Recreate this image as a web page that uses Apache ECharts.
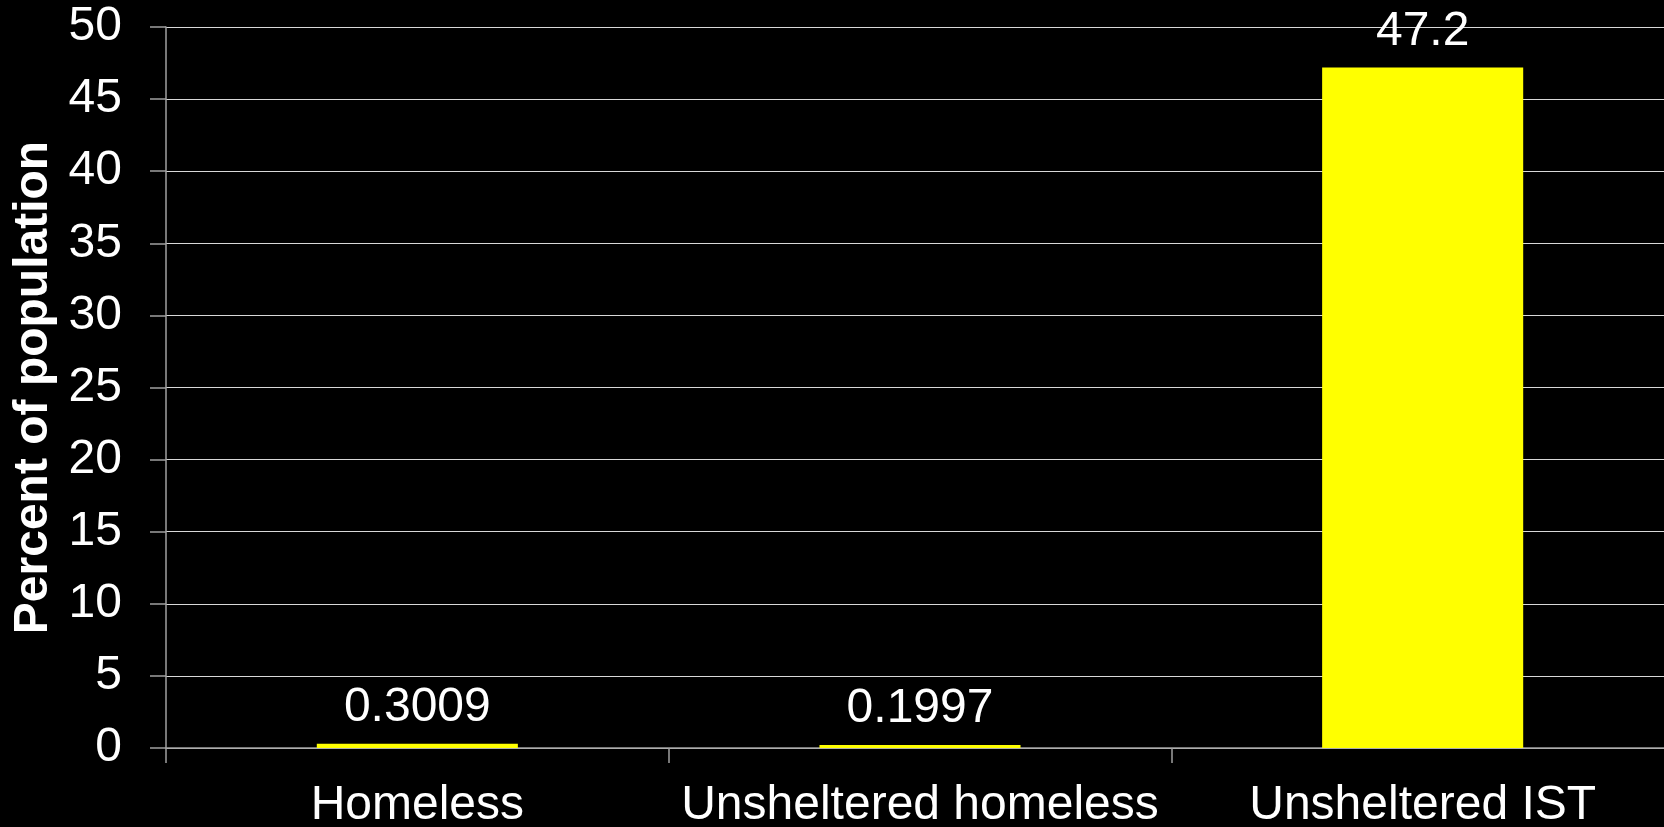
<!DOCTYPE html>
<html>
<head>
<meta charset="utf-8">
<script src="https://cdn.jsdelivr.net/npm/echarts@6/dist/echarts.min.js"></script>
<style>
html,body{margin:0;padding:0;background:#000;}
#c{width:1664px;height:827px;}
</style>
</head>
<body>
<div id="c"></div>
<script>
const categories = ['Homeless', 'Unsheltered homeless', 'Unsheltered IST'];
const values = [0.3009, 0.1997, 47.2];
const valueLabels = ['0.3009', '0.1997', '47.2'];
const yAxisName = 'Percent of population';

const chart = echarts.init(document.getElementById('c'));
const font = 'Liberation Sans, Arial, Helvetica, sans-serif';
chart.setOption({
  backgroundColor: '#000000',
  animation: false,
  grid: { left: 166, right: -10, top: 27, bottom: 79, containLabel: false, outerBoundsMode: 'none' },
  xAxis: {
    type: 'category',
    data: categories,
    axisLine: { show: true, lineStyle: { color: '#a0a0a0', width: 1.5 } },
    axisTick: { show: true, length: 15, lineStyle: { color: '#a0a0a0', width: 1.5 } },
    axisLabel: { color: '#ffffff', fontSize: 48, fontFamily: font, margin: 34, interval: 0 },
    splitLine: { show: false }
  },
  yAxis: {
    type: 'value',
    min: 0, max: 50, interval: 5,
    name: yAxisName,
    nameLocation: 'middle',
    nameGap: 99,
    nameTextStyle: { color: '#ffffff', fontSize: 48, fontWeight: 'bold', fontFamily: font },
    axisLine: { show: true, lineStyle: { color: '#a0a0a0', width: 1.5 } },
    axisTick: { show: true, length: 16, lineStyle: { color: '#a0a0a0', width: 1.5 } },
    axisLabel: { color: '#ffffff', fontSize: 48, fontFamily: font, margin: 44 },
    splitLine: { show: true, lineStyle: { color: '#d8d8d8', width: 1.2 } }
  },
  series: [{
    type: 'bar',
    data: values,
    barWidth: '40%',
    itemStyle: { color: '#ffff00' },
    label: {
      show: true,
      position: 'top',
      distance: 12,
      color: '#ffffff',
      fontSize: 48,
      fontFamily: font,
      formatter: p => valueLabels[p.dataIndex]
    }
  }]
});
</script>
</body>
</html>
